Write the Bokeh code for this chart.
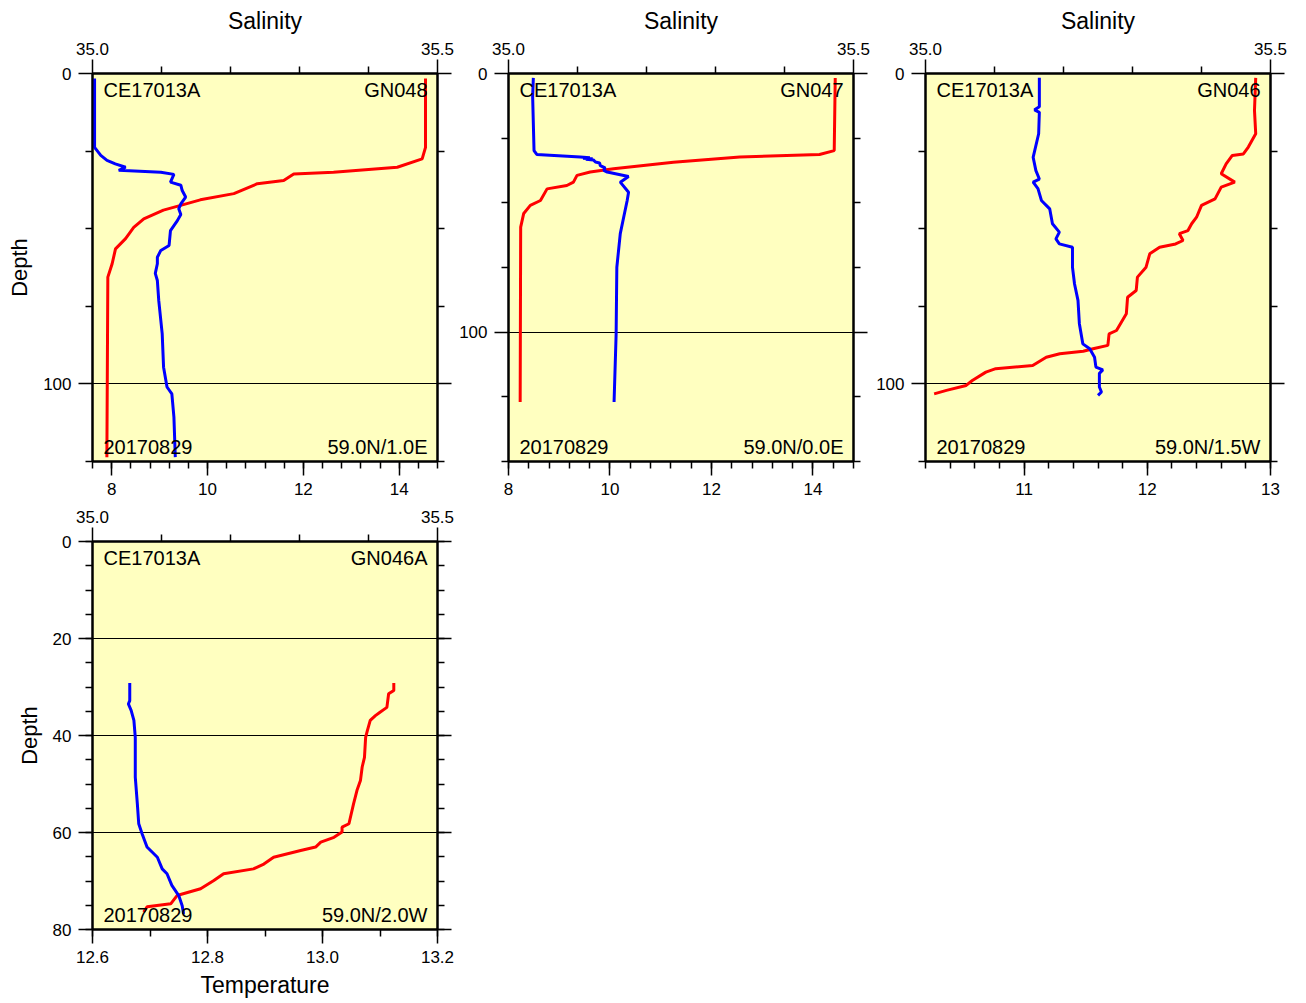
from bokeh.plotting import figure
from bokeh.models import (Range1d, LinearAxis, FixedTicker, PrintfTickFormatter, Label, Grid,
                          CustomLabelingPolicy)
from bokeh.layouts import row, column
from bokeh.embed import file_html
from bokeh.resources import INLINE

FONT = "Liberation Sans"
BG = "#FFFFC0"

# ---------------- data ----------------
# Panel 1: GN048, 59.0N/1.0E
p1_t_depth = [1.6, 23.8, 27.5, 30.2, 31.8, 32.4, 34.5, 35.5, 38.7, 40.7, 42.5, 44.0, 46.8, 49.6, 53.2, 56.5, 61.3, 65.6, 123.6]
p1_temp = [14.55, 14.55, 14.48, 13.96, 12.63, 11.80, 11.59, 11.04, 10.55, 9.85, 9.44, 9.08, 8.67, 8.46, 8.29, 8.08, 8.01, 7.92, 7.90]
p1_s_depth = [1.6, 23.8, 26.4, 28.0, 29.1, 30.2, 31.2, 31.8, 32.5, 35.0, 36.0, 37.7, 39.8, 42.0, 43.6, 45.4, 47.4, 50.6, 55.4, 57.0, 59.2, 61.3, 64.4, 66.7, 73.1, 83.8, 94.6, 101.0, 103.2, 110.7, 123.6]
p1_sal = [35.003, 35.003, 35.012, 35.021, 35.033, 35.048, 35.038, 35.099, 35.118, 35.113, 35.128, 35.130, 35.135, 35.128, 35.125, 35.128, 35.123, 35.113, 35.111, 35.099, 35.094, 35.094, 35.091, 35.094, 35.096, 35.101, 35.103, 35.108, 35.115, 35.118, 35.120]

# Panel 2: GN047, 59.0N/0.0E
p2_t_depth = [1.7, 29.8, 31.3, 32.3, 34.3, 36.8, 38.1, 39.4, 42.0, 43.3, 44.6, 49.1, 51.0, 54.1, 59.4, 127.0]
p2_temp = [14.44, 14.42, 14.13, 12.56, 11.25, 10.07, 9.61, 9.35, 9.28, 9.15, 8.76, 8.63, 8.43, 8.30, 8.24, 8.23]
p2_s_depth = [1.7, 9.0, 29.8, 31.3, 32.3, 32.6, 32.8, 33.0, 33.2, 33.4, 34.2, 34.6, 35.6, 36.5, 37.5, 38.1, 39.8, 42.0, 45.9, 49.1, 55.5, 61.9, 74.9, 100.6, 127.0]
p2_sal = [35.036, 35.035, 35.037, 35.041, 35.104, 35.118, 35.108, 35.122, 35.112, 35.123, 35.126, 35.132, 35.133, 35.140, 35.138, 35.143, 35.174, 35.162, 35.174, 35.172, 35.167, 35.162, 35.157, 35.156, 35.153]

# Panel 3: GN046, 59.0N/1.5W
p3_t_depth = [1.4, 11.9, 19.4, 23.7, 25.9, 26.4, 29.1, 32.3, 35.0, 36.6, 40.4, 42.5, 46.3, 48.4, 50.6, 51.6, 53.8, 54.9, 56.0, 58.1, 62.4, 65.6, 69.9, 72.1, 77.4, 82.8, 83.9, 87.6, 88.7, 89.5, 90.3, 91.4, 94.1, 95.1, 96.2, 98.9, 100.5, 102.1, 103.2]
p3_temp = [12.88, 12.87, 12.88, 12.82, 12.78, 12.69, 12.64, 12.60, 12.71, 12.60, 12.55, 12.44, 12.40, 12.36, 12.33, 12.26, 12.29, 12.23, 12.10, 12.02, 11.99, 11.92, 11.91, 11.84, 11.83, 11.75, 11.69, 11.68, 11.56, 11.48, 11.29, 11.18, 11.07, 10.77, 10.69, 10.58, 10.53, 10.37, 10.27]
p3_s_depth = [1.4, 10.7, 11.7, 12.5, 19.4, 27.0, 31.3, 34.0, 35.0, 37.1, 40.9, 43.6, 48.4, 51.1, 53.3, 54.9, 56.0, 62.4, 67.8, 73.1, 80.6, 87.1, 88.7, 91.4, 94.6, 95.5, 96.6, 101.0, 102.6, 103.7]
p3_sal = [35.165, 35.165, 35.158, 35.165, 35.164, 35.156, 35.160, 35.165, 35.156, 35.163, 35.168, 35.180, 35.184, 35.194, 35.189, 35.194, 35.213, 35.213, 35.216, 35.221, 35.223, 35.228, 35.238, 35.245, 35.247, 35.257, 35.252, 35.252, 35.255, 35.250]

# Panel 4: GN046A, 59.0N/2.0W
p4_t_depth = [29.2, 30.7, 31.4, 34.2, 35.2, 35.9, 36.9, 39.0, 40.4, 44.5, 46.5, 49.3, 51.3, 54.1, 58.2, 58.9, 59.9, 61.0, 62.0, 63.0, 63.7, 65.1, 66.5, 67.5, 68.5, 69.9, 71.6, 73.0, 74.7, 75.3, 76.4]
p4_temp = [13.124, 13.124, 13.115, 13.112, 13.100, 13.092, 13.083, 13.078, 13.075, 13.073, 13.069, 13.066, 13.060, 13.054, 13.046, 13.034, 13.034, 13.020, 12.997, 12.988, 12.962, 12.915, 12.898, 12.880, 12.828, 12.811, 12.788, 12.747, 12.736, 12.695, 12.689]
p4_s_depth = [29.2, 32.8, 33.5, 34.8, 36.9, 40.4, 48.6, 54.1, 58.2, 60.3, 63.0, 65.1, 67.5, 68.5, 70.9, 73.0, 75.1, 76.8]
p4_sal = [35.054, 35.054, 35.052, 35.056, 35.060, 35.062, 35.062, 35.065, 35.067, 35.072, 35.079, 35.094, 35.101, 35.108, 35.115, 35.125, 35.130, 35.132]

cruise = "CE17013A"
date = "20170829"
stations = ["GN048", "GN047", "GN046", "GN046A"]
positions = ["59.0N/1.0E", "59.0N/0.0E", "59.0N/1.5W", "59.0N/2.0W"]

sal_range = (35.0, 35.5)
sal_major = [35.0, 35.5]
sal_minor = [35.1, 35.2, 35.3, 35.4]


def style_axis(ax, label_size="17px"):
    ax.axis_line_width = 2
    ax.axis_line_color = "black"
    ax.major_tick_in = 0
    ax.major_tick_out = 14
    ax.minor_tick_in = 0
    ax.minor_tick_out = 7
    ax.major_tick_line_width = 1.5
    ax.minor_tick_line_width = 1.5
    ax.major_label_text_font = FONT
    ax.major_label_text_font_size = label_size
    ax.major_label_text_color = "black"
    ax.major_label_standoff = 6
    ax.axis_label_text_font = FONT
    ax.axis_label_text_font_style = "normal"
    ax.axis_label_text_font_size = "22px"
    ax.axis_label_text_color = "black"


def panel(t_depth, temp, s_depth, sal, station, pos, t_range, t_major, t_minor, t_fmt,
          d_max, d_major, d_minor, grid_ticks, borders, sal_title, depth_title, temp_title):
    left, right, top, bottom = borders
    p = figure(frame_width=345, frame_height=388,
               x_range=Range1d(*t_range), y_range=Range1d(d_max, 0),
               x_axis_type=None, y_axis_type=None,
               output_backend="svg", toolbar_location=None,
               min_border_left=left, min_border_right=right,
               min_border_top=top, min_border_bottom=bottom,
               background_fill_color=BG, border_fill_color="white",
               outline_line_color="black", outline_line_width=2)
    p.extra_x_ranges = {"sal": Range1d(*sal_range)}

    # bottom: temperature
    bx = LinearAxis(ticker=FixedTicker(ticks=t_major, minor_ticks=t_minor),
                    formatter=PrintfTickFormatter(format=t_fmt),
                    axis_label="Temperature" if temp_title else None)
    style_axis(bx)
    bx.major_label_standoff = 7
    bx.axis_label_text_font_size = "23px"
    bx.axis_label_standoff = 6
    p.add_layout(bx, "below")

    # top: salinity
    tx = LinearAxis(x_range_name="sal",
                    ticker=FixedTicker(ticks=sal_major, minor_ticks=sal_minor),
                    formatter=PrintfTickFormatter(format="%.1f"),
                    axis_label="Salinity" if sal_title else None)
    style_axis(tx)
    tx.major_label_standoff = 5
    tx.axis_label_text_font_size = "23px"
    tx.axis_label_standoff = 6
    p.add_layout(tx, "above")

    # left: depth
    ly = LinearAxis(ticker=FixedTicker(ticks=d_major, minor_ticks=d_minor),
                    formatter=PrintfTickFormatter(format="%d"),
                    axis_label="Depth" if depth_title else None)
    style_axis(ly)
    ly.major_label_standoff = 7
    ly.axis_label_standoff = 8
    p.add_layout(ly, "left")

    # right: ticks only
    ry = LinearAxis(ticker=FixedTicker(ticks=d_major, minor_ticks=d_minor),
                    major_label_policy=CustomLabelingPolicy(code="return []"))
    style_axis(ry)
    ry.major_label_text_font_size = "0px"
    ry.major_label_standoff = 0
    p.add_layout(ry, "right")

    g = Grid(dimension=1, ticker=FixedTicker(ticks=grid_ticks),
             grid_line_color="black", grid_line_width=1)
    p.add_layout(g)

    p.line(temp, t_depth, line_color="#FF0000", line_width=3)
    p.line(sal, s_depth, x_range_name="sal", line_color="#0000FF", line_width=3)

    lab = dict(text_font=FONT, text_font_size="20px", text_color="black",
               text_baseline="alphabetic")
    p.add_layout(Label(x=t_range[0], y=0, x_offset=11, y_offset=-16,
                       text=cruise, text_align="left", **lab))
    p.add_layout(Label(x=t_range[1], y=0, x_offset=-10, y_offset=-16,
                       text=station, text_align="right", **lab))
    p.add_layout(Label(x=t_range[0], y=d_max, x_offset=11, y_offset=15,
                       text=date, text_align="left", **lab))
    p.add_layout(Label(x=t_range[1], y=d_max, x_offset=-10, y_offset=15,
                       text=pos, text_align="right", **lab))
    return p


p1 = panel(p1_t_depth, p1_temp, p1_s_depth, p1_sal, stations[0], positions[0],
           (7.6, 14.8), [8, 10, 12, 14], [round(7.6 + 0.4 * i, 1) for i in range(19)], "%d",
           125, [0, 100], [25, 50, 75, 125], [100], (92, 18, 73, 42), True, True, False)
p2 = panel(p2_t_depth, p2_temp, p2_s_depth, p2_sal, stations[1], positions[1],
           (8.0, 14.8), [8, 10, 12, 14], [round(8.0 + 0.4 * i, 1) for i in range(18)], "%d",
           150, [0, 100], [25, 50, 75, 125, 150], [100], (53, 18, 73, 42), True, False, False)
p3 = panel(p3_t_depth, p3_temp, p3_s_depth, p3_sal, stations[2], positions[2],
           (10.2, 13.0), [11, 12, 13], [round(10.2 + 0.2 * i, 1) for i in range(15)], "%d",
           125, [0, 100], [25, 50, 75, 125], [100], (54, 18, 73, 42), True, False, False)
p4 = panel(p4_t_depth, p4_temp, p4_s_depth, p4_sal, stations[3], positions[3],
           (12.6, 13.2), [12.6, 12.8, 13.0, 13.2], [round(12.6 + 0.1 * i, 1) for i in range(7)], "%.1f",
           80, [0, 20, 40, 60, 80], [5 * i for i in range(17)], [20, 40, 60], (92, 18, 38, 64), False, True, True)

layout = column(row(p1, p2, p3), p4)
open("out.html", "w").write(file_html(layout, INLINE))
